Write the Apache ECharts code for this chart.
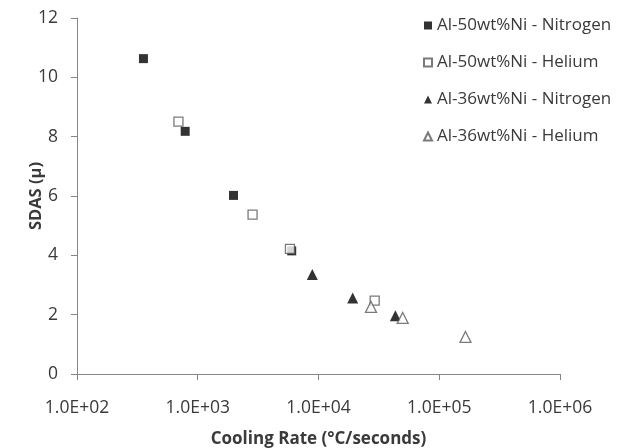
<!DOCTYPE html>
<html>
<head>
<meta charset="utf-8">
<script src="https://cdn.jsdelivr.net/npm/echarts@6/dist/echarts.min.js"></script>
<style>html,body{margin:0;padding:0;background:#fff}#c{width:618px;height:448px}</style>
</head>
<body>
<div id="c"></div>
<script>
var seriesNames = ['Al-50wt%Ni - Nitrogen', 'Al-50wt%Ni - Helium', 'Al-36wt%Ni - Nitrogen', 'Al-36wt%Ni - Helium'];
var n50X = [355, 787, 1977, 6000];
var n50Y = [10.63, 8.18, 6.02, 4.15];
var h50X = [692, 2844, 5800, 29200];
var h50Y = [8.51, 5.37, 4.22, 2.47];
var n36X = [8890, 19200, 43300];
var n36Y = [3.35, 2.56, 1.96];
var h36X = [27200, 49800, 164900];
var h36Y = [2.26, 1.89, 1.25];
var xTicks = ['1.0E+02', '1.0E+03', '1.0E+04', '1.0E+05', '1.0E+06'];
var xTitle = 'Cooling Rate (°C/seconds)';
var yTitle = 'SDAS (µ)';

function pairs(xs, ys) { return xs.map(function (x, i) { return [x, ys[i]]; }); }
var FONT = 'Open Sans';
var chart = echarts.init(document.getElementById('c'));
chart.setOption({
  animation: false,
  grid: { left: 77, right: 58, top: 18, bottom: 74, containLabel: false, outerBoundsMode: 'none' },
  legend: {
    orient: 'vertical', left: 418, top: 11, itemGap: 18,
    itemWidth: 8, itemHeight: 8,
    textStyle: { fontFamily: FONT, fontSize: 17, color: '#3a3a3a', lineHeight: 19 },
    data: seriesNames.map(function (n, i) { return { name: n, icon: i < 2 ? 'rect' : 'triangle' }; })
  },
  xAxis: {
    type: 'log', logBase: 10, min: 100, max: 1000000,
    name: xTitle, nameLocation: 'middle', nameGap: 57, nameMoveOverlap: false,
    nameTextStyle: { fontFamily: FONT, fontSize: 17, fontWeight: 'bold', color: '#3a3a3a' },
    axisLine: { lineStyle: { color: '#868686', width: 1 } },
    axisTick: { show: true, length: 6, lineStyle: { color: '#868686' } },
    splitLine: { show: false },
    minorTick: { show: false },
    axisLabel: {
      fontFamily: FONT, fontSize: 17.5, color: '#3a3a3a', margin: 25,
      formatter: function (v) { var k = Math.round(Math.log10(v)) - 2; return xTicks[k] || ''; }
    }
  },
  yAxis: {
    type: 'value', min: 0, max: 12, interval: 2,
    name: yTitle, nameLocation: 'middle', nameGap: 32, nameMoveOverlap: false,
    nameTextStyle: { fontFamily: FONT, fontSize: 16.5, fontWeight: 'bold', color: '#3a3a3a' },
    axisLine: { show: true, lineStyle: { color: '#868686', width: 1 } },
    axisTick: { show: true, length: 6, lineStyle: { color: '#868686' } },
    splitLine: { show: false },
    axisLabel: { fontFamily: FONT, fontSize: 17.5, color: '#3a3a3a', margin: 19 }
  },
  series: [
    { name: seriesNames[0], type: 'scatter', symbol: 'rect', symbolSize: 9,
      itemStyle: { color: '#000' }, data: pairs(n50X, n50Y) },
    { name: seriesNames[1], type: 'scatter', symbol: 'rect', symbolSize: 9,
      itemStyle: { color: '#fff', borderColor: '#595959', borderWidth: 1.3 }, data: pairs(h50X, h50Y) },
    { name: seriesNames[2], type: 'scatter', symbol: 'triangle', symbolSize: 11,
      itemStyle: { color: '#000' }, data: pairs(n36X, n36Y) },
    { name: seriesNames[3], type: 'scatter', symbol: 'triangle', symbolSize: 11,
      itemStyle: { color: '#fff', borderColor: '#595959', borderWidth: 1.3 }, data: pairs(h36X, h36Y) }
  ]
});
</script>
</body>
</html>
